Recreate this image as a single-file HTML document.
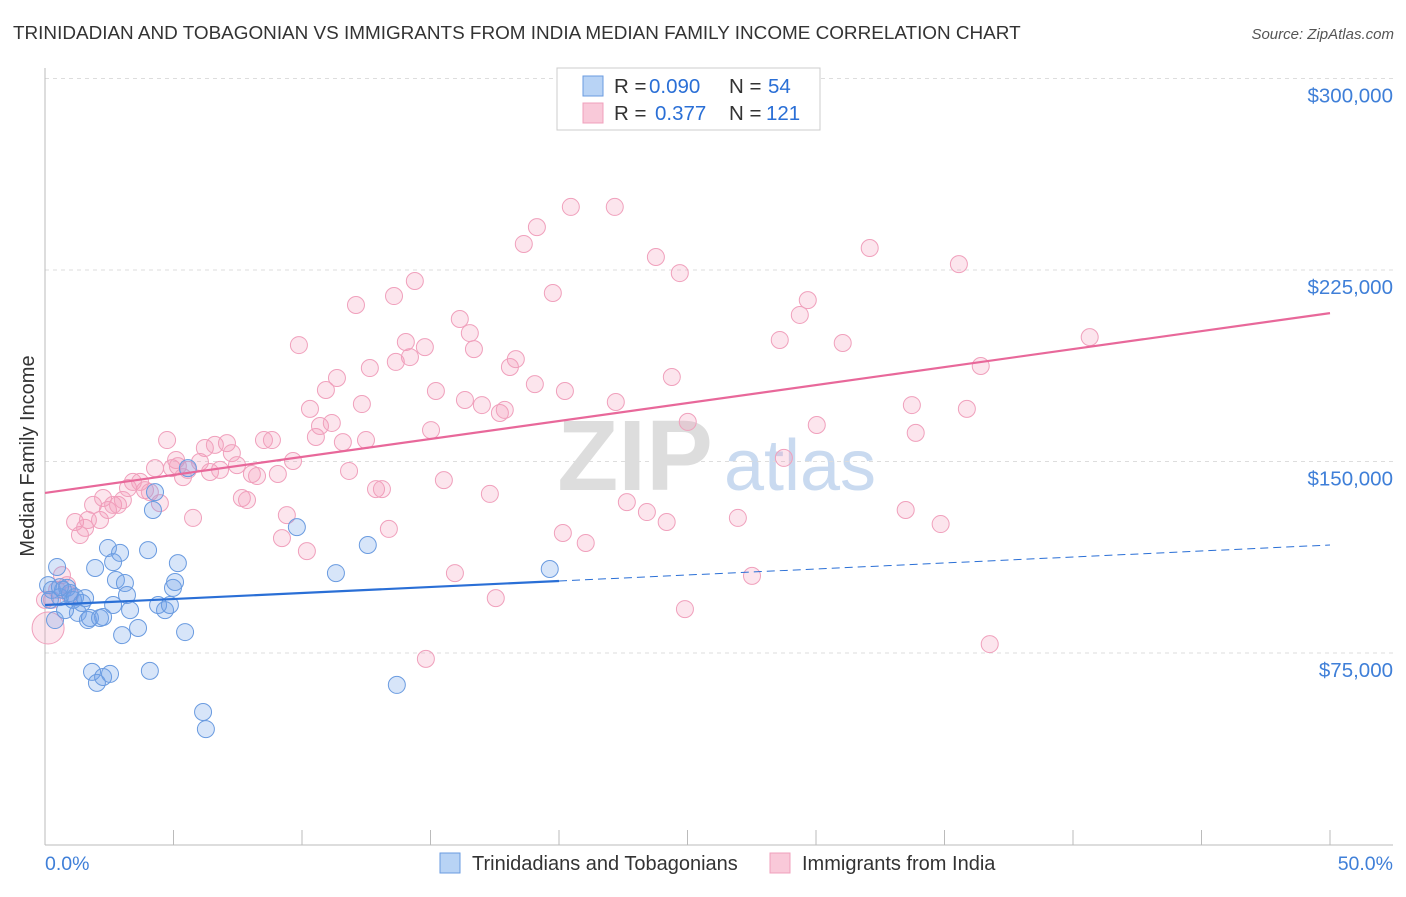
<!DOCTYPE html>
<html><head><meta charset="utf-8"><style>
body{margin:0;background:#fff;font-family:"Liberation Sans",sans-serif;}
svg text{font-family:"Liberation Sans",sans-serif;}
</style></head><body>
<svg id="chart" width="1406" height="892" viewBox="0 0 1406 892">
<text x="13" y="39" font-size="18.9" fill="#333">TRINIDADIAN AND TOBAGONIAN VS IMMIGRANTS FROM INDIA MEDIAN FAMILY INCOME CORRELATION CHART</text>
<text x="1394" y="39" font-size="15" fill="#555" text-anchor="end" font-style="italic">Source: ZipAtlas.com</text>
<g>
<text x="635" y="490" font-size="100" fill="#ddd" text-anchor="middle" font-family="Liberation Serif,serif" font-weight="bold">ZIP</text>
<text x="800" y="490" font-size="72" fill="#c9daf0" text-anchor="middle">atlas</text>
</g>
<g id="grid"></g>
<g id="axes"></g>
<g id="marks"></g>
<text transform="translate(34,456) rotate(-90)" font-size="20" fill="#333" text-anchor="middle">Median Family Income</text>
<g>
<rect x="557" y="68" width="263" height="62" fill="#fff" stroke="#ccc"/>
<rect x="583" y="76" width="20" height="20" fill="#b8d3f5" stroke="#6a9be0"/>
<text x="614" y="93" font-size="20.5" fill="#333">R = </text><text x="649" y="93" font-size="20.5" fill="#2a6fd6">0.090</text>
<text x="729" y="93" font-size="20.5" fill="#333">N = </text><text x="768" y="93" font-size="20.5" fill="#2a6fd6">54</text>
<rect x="583" y="103" width="20" height="20" fill="#f9c9d9" stroke="#f0a0bc"/>
<text x="614" y="120" font-size="20.5" fill="#333">R = </text><text x="655" y="120" font-size="20.5" fill="#2a6fd6">0.377</text>
<text x="729" y="120" font-size="20.5" fill="#333">N = </text><text x="766" y="120" font-size="20.5" fill="#2a6fd6">121</text>
</g>
<g>
<rect x="440" y="853" width="20" height="20" fill="#b8d3f5" stroke="#6a9be0"/>
<text x="472" y="870" font-size="20" fill="#333">Trinidadians and Tobagonians</text>
<rect x="770" y="853" width="20" height="20" fill="#f9c9d9" stroke="#f0a0bc"/>
<text x="802" y="870" font-size="20" fill="#333">Immigrants from India</text>
</g>
</svg>
<script>
const yTicks=[75000,150000,225000,300000];
const yTickLabels=["$75,000","$150,000","$225,000","$300,000"];
const xTickLabels=["0.0%","50.0%"];
const blueX=[0.12,0.27,0.47,0.58,0.70,0.86,0.97,1.09,1.17,1.28,1.44,1.56,1.67,1.75,1.95,2.14,2.26,2.45,2.65,2.76,2.92,3.11,3.19,2.65,3.00,3.31,3.62,4.01,4.20,4.28,4.40,4.67,4.86,4.98,5.06,5.17,5.45,5.56,1.83,2.02,2.26,2.53,4.08,6.15,6.26,9.80,11.32,12.56,13.69,19.64,0.58,0.19,0.39,0.78];
const blueY=[101.6,99.7,108.7,96.9,99.7,100.5,98.5,95.8,96.9,90.7,94.6,96.5,87.9,88.7,108.3,88.7,89.1,116.1,110.6,103.6,114.2,102.4,97.7,93.8,82.0,91.8,84.8,115.3,131.0,138.0,93.8,91.8,93.8,100.5,102.8,110.2,83.2,147.4,67.6,63.3,65.6,66.8,68.0,51.9,45.2,124.3,106.3,117.3,62.5,107.9,100.8,95.8,87.9,91.8];
const pinkX=[0.12,0.27,0.47,0.66,0.86,0.97,1.17,1.36,1.56,1.67,1.87,2.14,2.26,2.45,2.65,2.84,3.03,3.23,3.42,3.70,3.89,4.08,4.28,4.47,4.75,4.94,5.10,5.17,5.37,5.56,5.76,6.03,6.22,6.42,6.61,6.81,7.08,7.27,7.47,7.66,7.86,8.05,8.25,8.52,8.83,9.06,9.22,9.41,9.65,9.88,10.19,10.31,10.54,10.70,10.93,11.16,11.36,11.59,11.83,12.10,12.33,12.49,12.64,12.88,13.11,13.38,13.58,13.65,14.04,14.20,14.39,14.78,14.82,15.02,15.21,15.52,15.95,16.14,16.34,16.53,16.69,17.00,17.31,17.54,17.70,17.89,18.09,18.32,18.63,19.06,19.14,19.76,20.23,20.15,20.46,21.04,22.17,22.21,22.64,23.42,23.77,24.19,24.39,24.70,25.01,24.90,26.96,27.51,28.59,28.75,29.37,29.68,30.03,31.04,32.09,33.49,33.73,33.88,34.85,35.56,35.87,36.41,36.76,40.65,0.0];
const pinkY=[84.8,95.8,99.7,105.5,101.6,97.7,126.3,121.2,124.0,127.1,133.0,127.1,135.7,131.0,133.0,133.0,134.9,139.6,142.0,142.0,138.8,138.0,147.4,133.7,158.4,147.4,150.6,148.2,143.9,146.7,127.9,149.8,155.3,145.9,156.5,146.7,157.2,153.3,148.6,135.7,134.9,145.1,144.3,158.4,158.4,145.1,120.0,129.0,150.2,195.6,114.9,170.6,159.6,163.9,178.0,165.1,182.7,157.6,146.3,211.3,172.5,158.4,186.6,139.2,139.2,123.6,214.8,189.0,196.8,190.9,220.7,194.8,72.7,162.3,177.6,142.7,106.3,205.8,174.1,200.3,194.0,172.1,137.3,96.5,169.0,170.2,187.0,190.1,235.2,180.3,241.8,216.0,177.6,122.0,249.7,118.1,249.7,173.3,134.1,130.2,230.1,126.3,183.1,223.8,165.5,92.2,127.9,105.2,197.6,151.4,207.4,213.2,164.3,196.4,233.6,131.0,172.1,161.2,125.5,227.3,170.6,187.4,78.5,198.7,95.8];
const blueTrend=[93.8,0.47];   // intercept (k$), slope per %
const pinkTrend=[137.7,1.408];
const blueSolidEnd=20;

const NS="http://www.w3.org/2000/svg";
const X=p=>45+p*(1330-45)/50;
const Y=k=>653-(k*1000-75000)*191.5/75000;
function mk(tag,attrs,parent){const e=document.createElementNS(NS,tag);for(const k in attrs)e.setAttribute(k,attrs[k]);parent.appendChild(e);return e;}
const grid=document.getElementById('grid'),axes=document.getElementById('axes'),marks=document.getElementById('marks');
yTicks.forEach((v,i)=>{
  const y=Y(v/1000);
  const l=mk('line',{x1:45,x2:1393,y1:y,y2:y,stroke:'#ddd','stroke-dasharray':'4,4'},grid);
  
  
  const t=mk('text',{x:1393,y:y+24,'font-size':20.5,fill:'#3f7fd8','text-anchor':'end'},axes);
  t.textContent=yTickLabels[i];
  
  
});
const ax=mk('line',{x1:45,x2:45,y1:68,y2:845,stroke:'#bbb'},axes);


const bx=mk('line',{x1:45,x2:1393,y1:845,y2:845,stroke:'#bbb'},axes);


for(let i=0;i<=10;i++){
  const tk=mk('line',{x1:X(i*5),x2:X(i*5),y1:830,y2:845,stroke:'#bbb'},axes);
  
  
}
const xl0=mk('text',{x:45,y:870,'font-size':19.5,fill:'#3f7fd8'},axes);xl0.textContent=xTickLabels[0];


const xl1=mk('text',{x:1393,y:870,'font-size':19.5,fill:'#3f7fd8','text-anchor':'end'},axes);xl1.textContent=xTickLabels[1];



pinkX.forEach((x,i)=>{
  const big=i===0;
  const c=mk('circle',{cx:X(x),cy:Y(pinkY[i]),r:big?16:8.5,fill:'rgba(242,150,182,0.25)',stroke:'#f0a0bc','stroke-width':1},marks);
  
  
});
blueX.forEach((x,i)=>{
  const c=mk('circle',{cx:X(x),cy:Y(blueY[i]),r:8.5,fill:'rgba(110,160,235,0.28)',stroke:'#6a9be0','stroke-width':1},marks);
  
  
});
const pl=mk('line',{x1:X(0),y1:Y(pinkTrend[0]),x2:X(50),y2:Y(pinkTrend[0]+pinkTrend[1]*50),stroke:'#e8689a','stroke-width':2.2},marks);


const bl=mk('line',{x1:X(0),y1:Y(blueTrend[0]),x2:X(blueSolidEnd),y2:Y(blueTrend[0]+blueTrend[1]*blueSolidEnd),stroke:'#2a6fd6','stroke-width':2.2},marks);


const bd=mk('line',{x1:X(blueSolidEnd),y1:Y(blueTrend[0]+blueTrend[1]*blueSolidEnd),x2:X(50),y2:Y(blueTrend[0]+blueTrend[1]*50),stroke:'#2a6fd6','stroke-width':1,'stroke-dasharray':'8,5'},marks);


</script>
</body></html>
